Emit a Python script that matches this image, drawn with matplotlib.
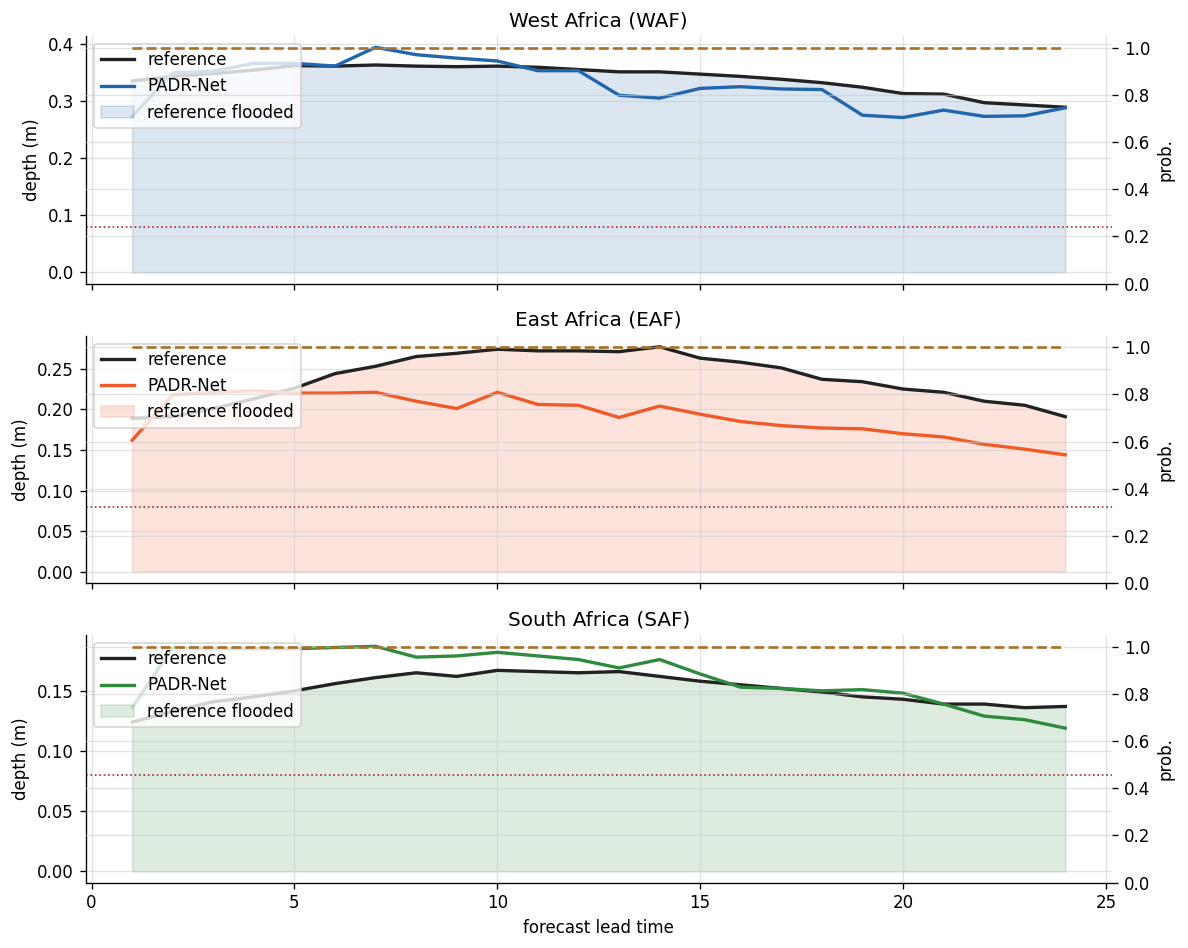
import numpy as np
import matplotlib
matplotlib.use("Agg")
import matplotlib.pyplot as plt

# lead times 1..24
lead = list(range(1, 25))

# West Africa
waf_ref = [0.335, 0.343, 0.348, 0.354, 0.362, 0.361, 0.363, 0.361, 0.360, 0.361, 0.359, 0.355,
           0.351, 0.351, 0.347, 0.343, 0.338, 0.332, 0.324, 0.313, 0.312, 0.297, 0.293, 0.289]
waf_padr = [0.273, 0.349, 0.352, 0.366, 0.366, 0.361, 0.394, 0.381, 0.375, 0.370, 0.353, 0.353,
            0.310, 0.305, 0.322, 0.325, 0.321, 0.320, 0.275, 0.271, 0.284, 0.273, 0.274, 0.288]

# East Africa
eaf_ref = [0.189, 0.191, 0.201, 0.213, 0.226, 0.244, 0.253, 0.265, 0.269, 0.274, 0.272, 0.272,
           0.271, 0.277, 0.263, 0.258, 0.251, 0.237, 0.234, 0.225, 0.221, 0.210, 0.205, 0.191]
eaf_padr = [0.162, 0.218, 0.221, 0.223, 0.220, 0.220, 0.221, 0.210, 0.201, 0.221, 0.206, 0.205,
            0.190, 0.204, 0.194, 0.185, 0.180, 0.177, 0.176, 0.170, 0.166, 0.157, 0.151, 0.144]

# South Africa
saf_ref = [0.124, 0.133, 0.141, 0.145, 0.150, 0.156, 0.161, 0.165, 0.162, 0.167, 0.166, 0.165,
           0.166, 0.162, 0.158, 0.155, 0.152, 0.149, 0.145, 0.143, 0.139, 0.139, 0.136, 0.137]
saf_padr = [0.136, 0.186, 0.185, 0.185, 0.185, 0.186, 0.187, 0.178, 0.179, 0.182, 0.179, 0.176,
            0.169, 0.176, 0.164, 0.153, 0.152, 0.150, 0.151, 0.148, 0.139, 0.129, 0.126, 0.119]

# flood probability of the reference (all flooded)
prob_ref = [1.0] * 24

threshold = 0.08

regions = ["West Africa (WAF)", "East Africa (EAF)", "South Africa (SAF)"]
refs = [waf_ref, eaf_ref, saf_ref]
preds = [waf_padr, eaf_padr, saf_padr]
colors = ["#2166ac", "#f05a28", "#2e8b3e"]

fig, axes = plt.subplots(3, 1, figsize=(9.9, 7.9), dpi=120, sharex=True)
fig.subplots_adjust(left=0.072, right=0.936, top=0.962, bottom=0.069, hspace=0.21)

for ax, title, ref, pred, c in zip(axes, regions, refs, preds, colors):
    ax.plot(lead, ref, color="#222222", lw=2, label="reference")
    ax.plot(lead, pred, color=c, lw=2, label="PADR-Net")
    ax.fill_between(lead, 0, ref, color=c, alpha=0.16, label="reference flooded")
    ax.axhline(threshold, color="#a52a2a", ls=":", lw=1)
    ax.set_ylabel("depth (m)")
    ax.set_title(title)
    ax.grid(True, color="#cccccc", alpha=0.55, lw=0.8)
    ax.spines["top"].set_visible(False)
    ax.spines["right"].set_visible(False)
    ax.legend(loc="upper left", framealpha=0.8)

    ax2 = ax.twinx()
    ax2.plot(lead, prob_ref, color="#a8702a", ls="--", lw=1.6)
    ax2.set_ylim(0, 1.05)
    ax2.set_ylabel("prob.")
    ax2.grid(True, axis="y", color="#cccccc", alpha=0.55, lw=0.8)
    for s in ["top", "right", "left", "bottom"]:
        ax2.spines[s].set_visible(False)

axes[-1].set_xlabel("forecast lead time")
axes[-1].set_xticks([0, 5, 10, 15, 20, 25])

fig.savefig("out.png")
